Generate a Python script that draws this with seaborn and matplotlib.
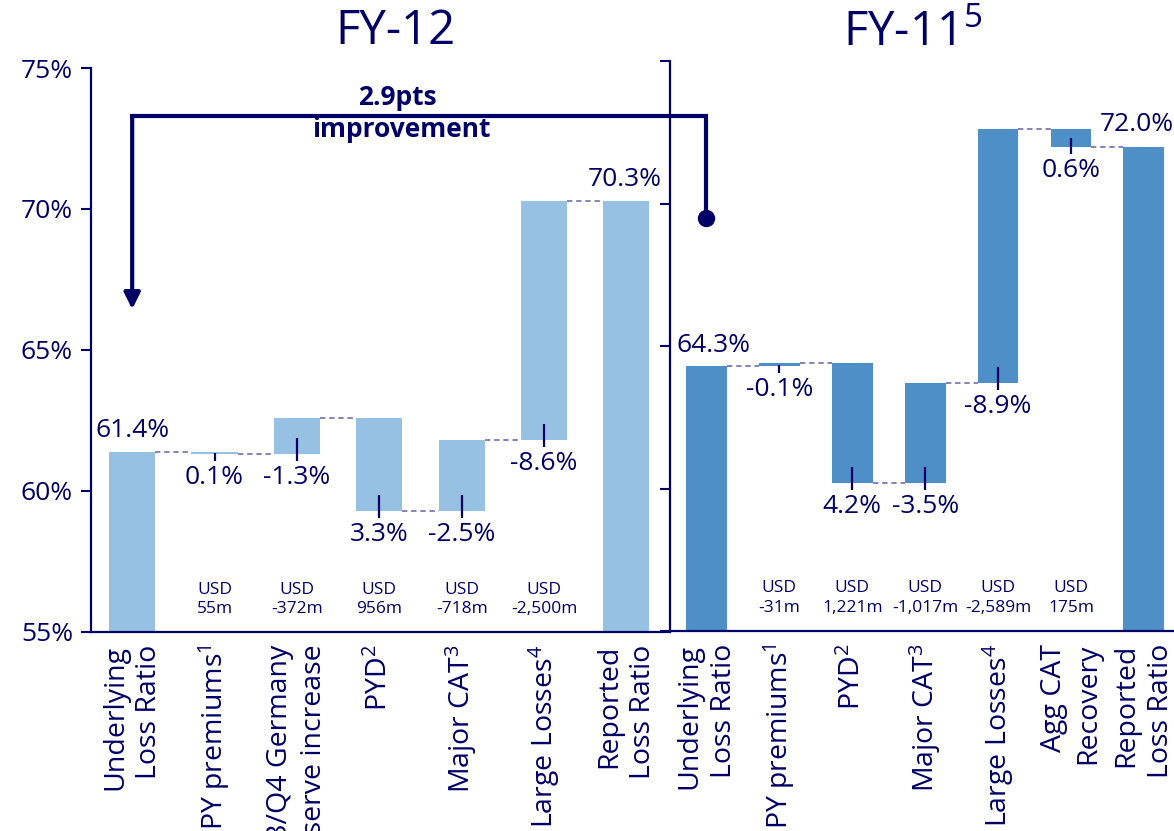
import numpy as np
import pandas as pd
import matplotlib
matplotlib.use("Agg")
import matplotlib.pyplot as plt
import seaborn as sns
from matplotlib.lines import Line2D

# ---------------- data ----------------
fy12_categories = ["Underlying\nLoss Ratio", "PY premiums$^1$",
                   "Q3/Q4 Germany\nreserve increase", "PYD$^2$",
                   "Major CAT$^3$", "Large Losses$^4$", "Reported\nLoss Ratio"]
# running loss ratio (%) after each step; first value = underlying loss ratio
fy12_levels = [61.4, 61.3, 62.6, 59.3, 61.8, 70.3]
fy12_reported = 70.3
fy12_step_labels = ["0.1%", "-1.3%", "3.3%", "-2.5%", "-8.6%"]
fy12_usd = ["USD\n55m", "USD\n-372m", "USD\n956m", "USD\n-718m", "USD\n-2,500m"]

fy11_categories = ["Underlying\nLoss Ratio", "PY premiums$^1$", "PYD$^2$",
                   "Major CAT$^3$", "Large Losses$^4$", "Agg CAT\nRecovery",
                   "Reported\nLoss Ratio"]
fy11_levels = [64.3, 64.4, 60.2, 63.7, 72.6, 72.0]
fy11_reported = 72.0
fy11_step_labels = ["-0.1%", "4.2%", "-3.5%", "-8.9%", "0.6%"]
fy11_usd = ["USD\n-31m", "USD\n1,221m", "USD\n-1,017m", "USD\n-2,589m", "USD\n175m"]

y_ticks = [55, 60, 65, 70, 75]
y_tick_labels = ["55%", "60%", "65%", "70%", "75%"]

title_fy12 = "FY-12"
title_fy11 = "FY-11$^5$"
improvement_top = "2.9pts"
improvement_bottom = "improvement"

# ---------------- style ----------------
navy = "#000066"
light_blue = "#97C1E3"
mid_blue = "#4F8FC8"
connector = "#6262AA"

sns.set_theme(style="white")
plt.rcParams["font.family"] = ["Open Sans", "DejaVu Sans"]
plt.rcParams["mathtext.fontset"] = "custom"
plt.rcParams["mathtext.rm"] = "Open Sans"
plt.rcParams["mathtext.it"] = "Open Sans:italic"
plt.rcParams["mathtext.bf"] = "Open Sans:bold"
plt.rcParams["text.color"] = navy

W, H = 1174, 831
fig = plt.figure(figsize=(W / 100, H / 100), dpi=100)
fig.patch.set_facecolor("white")

ax1 = fig.add_axes([91 / W, (H - 632) / H, (670 - 91) / W, (632 - 68) / H])
ax2 = fig.add_axes([670 / W, (H - 631) / H, 7 * 72.9 / W, (631 - 61) / H])

BAR_W = 0.56


def waterfall_frame(categories, levels, reported):
    bottoms, heights = [0.0], [levels[0]]
    for a, b in zip(levels[:-1], levels[1:]):
        bottoms.append(min(a, b))
        heights.append(abs(b - a))
    bottoms.append(0.0)
    heights.append(reported)
    return pd.DataFrame({"category": categories, "height": heights, "bottom": bottoms})


def draw_panel(ax, categories, levels, reported, step_labels, usd, color,
               xlim, first_dx, last_dx):
    df = waterfall_frame(categories, levels, reported)
    sns.barplot(data=df, x="category", y="height", order=categories, color=color,
                saturation=1, width=BAR_W, errorbar=None,
                bottom=df["bottom"].to_numpy(), linewidth=0, ax=ax)
    ax.set_xlim(*xlim)
    ax.set_ylim(55, 75)
    ax.set_xlabel("")
    ax.set_ylabel("")

    n = len(categories)
    # dashed connectors at the running level
    for i, lvl in enumerate(levels):
        ax.plot([i + BAR_W / 2, i + 1 - BAR_W / 2], [lvl, lvl], color=connector,
                lw=1.1, ls=(0, (3.5, 2.5)), zorder=1)

    # step labels with little tick marks at the lower edge of each floating bar
    for k, lab in enumerate(step_labels):
        i = k + 1
        lo = df["bottom"].iloc[i]
        h = df["height"].iloc[i]
        ax.plot([i, i], [lo - 0.25, lo + min(0.57, h / 2)], color=navy, lw=1.6,
                solid_capstyle="butt", zorder=3)
        ax.annotate(lab, (i, lo), xytext=(0, -17), textcoords="offset points",
                    ha="center", va="center", fontsize=19, color=navy)
        ax.text(i, 56.15, usd[k], ha="center", va="center", fontsize=12.5,
                color=navy, linespacing=1.3)

    # totals
    ax.annotate(f"{levels[0]:.1f}%", (0, levels[0]), xytext=(first_dx, 15),
                textcoords="offset points", ha="center", va="center",
                fontsize=19, color=navy)
    ax.annotate(f"{reported:.1f}%", (n - 1, reported), xytext=(last_dx, 15.5),
                textcoords="offset points", ha="center", va="center",
                fontsize=19, color=navy, annotation_clip=False)

    ax.set_xticks(range(n))
    ax.set_xticklabels(categories, rotation=90, ha="center", va="top",
                       multialignment="right", fontsize=20.5, color=navy,
                       linespacing=1.3)
    ax.tick_params(axis="x", length=0, pad=9, bottom=False)
    ax.tick_params(axis="y", left=True, direction="out", length=7, width=1.5,
                   color=navy, pad=6, labelsize=19, labelcolor=navy)
    for side in ("top", "right"):
        ax.spines[side].set_visible(False)
    for side in ("left", "bottom"):
        ax.spines[side].set_color(navy)
        ax.spines[side].set_linewidth(1.6)
    ax.set_facecolor("none")


draw_panel(ax1, fy12_categories, fy12_levels, fy12_reported, fy12_step_labels,
           fy12_usd, light_blue, (-0.5, 6.53), 0, -1)
draw_panel(ax2, fy11_categories, fy11_levels, fy11_reported, fy11_step_labels,
           fy11_usd, mid_blue, (-0.5, 6.5), 5, -5)

ax1.set_yticks(y_ticks, y_tick_labels)
ax2.set_yticks(y_ticks, [""] * len(y_ticks))

# titles
fig.text(396 / W, 1 - 31 / H, title_fy12, ha="center", va="center",
         fontsize=34, color=navy)
fig.text(913 / W, 1 - 33 / H, title_fy11, ha="center", va="center",
         fontsize=34, color=navy)

# improvement bracket: from FY-11 underlying (right) to FY-12 underlying (left)
to_fig = fig.transFigure.inverted()
bracket_level = 73.3
pL = to_fig.transform(ax1.transData.transform((0, bracket_level)))
pR = to_fig.transform(ax2.transData.transform((0, bracket_level)))
pC = to_fig.transform(ax2.transData.transform((0, 69.5)))
fig.add_artist(Line2D([pL[0], pR[0], pR[0]], [pL[1], pL[1], pC[1]],
                      transform=fig.transFigure, lw=3, color=navy,
                      solid_joinstyle="miter", solid_capstyle="projecting"))
fig.add_artist(Line2D([pR[0]], [pC[1]], transform=fig.transFigure, marker="o",
                      ms=11.5, color=navy, lw=0))
ax1.annotate("", xy=(0, 66.45), xytext=(0, bracket_level),
             arrowprops=dict(arrowstyle="-|>", color=navy, lw=3,
                             mutation_scale=24, shrinkA=0, shrinkB=0),
             annotation_clip=False)
fig.text(397 / W, pL[1] + 18 / H, improvement_top, ha="center", va="center",
         fontsize=19, fontweight="bold", color=navy)
fig.text(401 / W, pL[1] - 14 / H, improvement_bottom, ha="center", va="center",
         fontsize=19, fontweight="bold", color=navy)

fig.savefig("out.png", dpi=100, facecolor="white")
